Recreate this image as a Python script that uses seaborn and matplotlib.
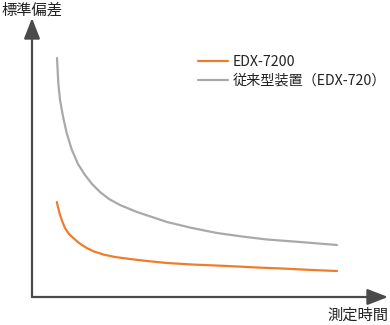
import matplotlib
matplotlib.use("Agg")
import matplotlib.pyplot as plt
import seaborn as sns
import pandas as pd

sns.set_theme(style="white")
plt.rcParams['font.family'] = ['Noto Sans CJK JP', 'DejaVu Sans']

# data (arbitrary units)
gray_label = "従来型装置（EDX-720）"
orange_label = "EDX-7200"
gray_x = [25, 26.3, 28, 30, 31.3, 34.7, 39.5, 46, 53, 60, 68, 77, 88, 105, 120,
          135, 160, 185, 210, 235, 268, 305]
gray_y = [239, 214, 197, 186, 179, 164, 148, 133, 122, 113, 105, 98, 92, 85, 80,
          75, 69, 64, 60.5, 57.5, 55, 52]
orange_x = [24.8, 26.5, 28, 30.5, 33, 37, 41.3, 47, 54.7, 62, 71.3, 83, 98,
            115, 135, 160, 195, 225, 250, 280, 305]
orange_y = [95, 88, 82, 75, 69, 63, 59, 54, 49, 45.5, 42.5, 40, 38, 36, 34,
            32.5, 31, 29.5, 28.5, 27, 26]
x_label = "測定時間"
y_label = "標準偏差"

df = pd.concat([
    pd.DataFrame({"t": orange_x, "s": orange_y, "series": orange_label}),
    pd.DataFrame({"t": gray_x, "s": gray_y, "series": gray_label}),
])

W, H = 390, 325
fig = plt.figure(figsize=(W/100, H/100), dpi=100)
ax = fig.add_axes([32/W, (H-297)/H, 356/W, 279/H])

sns.lineplot(data=df, x="t", y="s", hue="series",
             palette={orange_label: "#EE7D2B", gray_label: "#A9A9AB"},
             linewidth=1.6, ax=ax, estimator=None, sort=True)
for ln in ax.get_lines():
    ln.set_solid_joinstyle('round')
    ln.set_solid_capstyle('round')

ax.set_xlim(0, 356)
ax.set_ylim(0, 279)
for s in ax.spines.values():
    s.set_visible(False)
ax.set_xticks([])
ax.set_yticks([])
ax.set_xlabel("")
ax.set_ylabel("")

axis_col = "#4a4a4a"
ax.annotate('', xy=(1, 0), xytext=(0, 0), xycoords='axes fraction',
            arrowprops=dict(arrowstyle='-|>,head_length=0.9,head_width=0.35',
                            color=axis_col, lw=1.6, shrinkA=0, shrinkB=0,
                            mutation_scale=14), annotation_clip=False)
ax.annotate('', xy=(0, 1), xytext=(0, 0), xycoords='axes fraction',
            arrowprops=dict(arrowstyle='-|>,head_length=0.9,head_width=0.35',
                            color=axis_col, lw=1.6, shrinkA=0, shrinkB=0,
                            mutation_scale=14), annotation_clip=False)

fig.text(1/W, 1 - 10/H, y_label, ha='left', va='center', fontsize=11, color="#222222")
fig.text(388/W, 1 - 315/H, x_label, ha='right', va='center', fontsize=11, color="#222222")

leg = ax.legend(loc='upper left', bbox_to_anchor=(198/W, 1 - 55/H),
                bbox_transform=fig.transFigure, frameon=False,
                fontsize=10.2, handlelength=2.1, handletextpad=0.35,
                labelspacing=0.35, borderaxespad=0, borderpad=0)
for t in leg.get_texts():
    t.set_color("#222222")

fig.savefig("out.png", dpi=100)
